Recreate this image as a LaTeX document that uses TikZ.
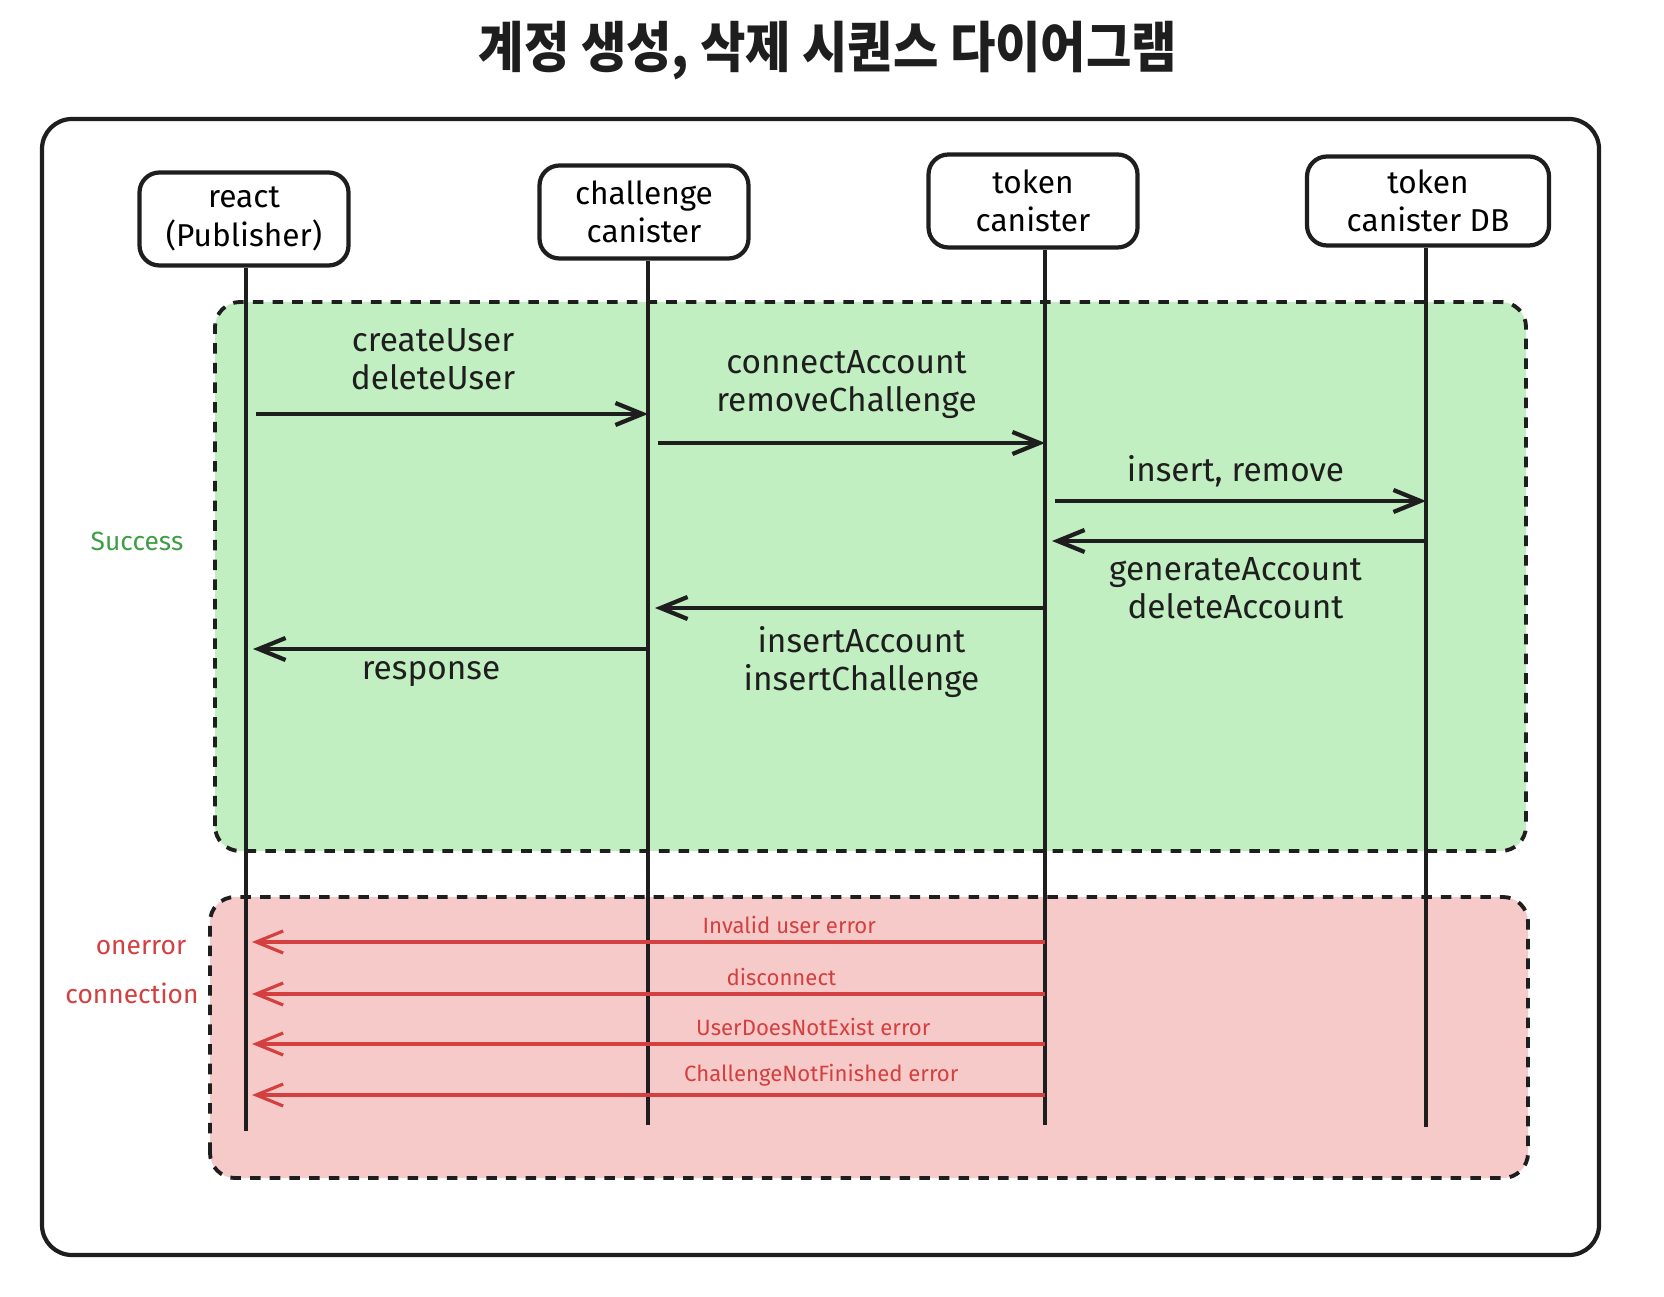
\documentclass[tikz,border=0pt]{standalone}
\usepackage{fontspec}
\setmainfont{Fira Sans}
\newfontfamily\krfont[FakeStretch=0.9]{Noto Sans CJK KR}
\usepackage{tikz}
\usetikzlibrary{arrows.meta, calc}
\definecolor{ink}{HTML}{1E1E1E}
\definecolor{okfill}{HTML}{C1EFC1}
\definecolor{errfill}{HTML}{F7CACA}
\definecolor{okink}{HTML}{3F9E45}
\definecolor{errink}{HTML}{D43F3F}

\begin{document}
\begin{tikzpicture} [>={Straight Barb[length=2.7mm,width=2.2mm]},
    line width = 1.1pt,
    actor/.style = {draw=ink, line width=1.2pt, rounded corners=2mm, align=center,
                    minimum width=2.09cm, minimum height=0.93cm, inner sep=1pt,
                    font=\fontsize{9}{11}\selectfont},
    el/.style = {inner sep=2pt, align=center, text=ink, font=\fontsize{9.5}{10.8}\selectfont},
    errl/.style = {inner sep=2pt, text=errink, font=\fontsize{6.3}{7.5}\selectfont},
    side/.style = {font=\fontsize{7.5}{8.5}\selectfont},
    ]
        \tikzset{life/.style = {draw=ink, line width=1.2pt}}
        \tikzset{msg/.style = {->, draw=ink, line width=1.2pt, shorten <=1mm}}
        \tikzset{back/.style = {->, draw=ink, line width=1.2pt, shorten >=0.7mm}}
        \tikzset{errmsg/.style = {->, draw=errink, line width=0.9pt, shorten >=0.6mm}}
        \tikzset{zone/.style = {draw=ink, line width=1.1pt, dash pattern=on 3pt off 2.6pt, rounded corners=2.5mm}}
    \useasboundingbox (0,0) rectangle (16.64,12.96);

    % title and frame
    \node[font=\krfont\bfseries\fontsize{15.6}{17}\selectfont, text=ink] (title) at (8.28,12.45) {계정 생성, 삭제 시퀀스 다이어그램};
    \draw[ink, line width=1.2pt, rounded corners=3mm] (0.42,0.41) rectangle (15.99,11.77);

    % success / error zones
    \path[zone, fill=okfill] (2.15,4.45) rectangle (15.26,9.94);
    \path[zone, fill=errfill] (2.10,1.18) rectangle (15.28,3.99);
    \node[side, text=okink] (ok) at (1.37,7.55) {Success};
    \node[side, text=errink] (onerr) at (1.41,3.48) {onerror};
    \node[side, text=errink] (conn) at (1.32,3.03) {connection};

    % actors
    \node[actor] (react) at (2.44,10.77) {react\\(Publisher)};
    \node[actor] (chal) at (6.44,10.84) {challenge\\canister};
    \node[actor] (token) at (10.33,10.95) {token\\canister};
    \node[actor, minimum width=2.42cm, minimum height=0.89cm] (db) at (14.28,10.95) {token\\canister DB};

    \coordinate (reactEnd) at (2.46,1.65);
    \coordinate (chalEnd) at (6.48,1.71);
    \coordinate (tokenEnd) at (10.45,1.71);
    \coordinate (dbEnd) at (14.26,1.69);

    \draw[life] (react.south -| reactEnd) -- (reactEnd);
    \draw[life] (chal.south -| chalEnd) -- (chalEnd);
    \draw[life] (token.south -| tokenEnd) -- (tokenEnd);
    \draw[life] (db.south -| dbEnd) -- (dbEnd);

\path
    (reactEnd |- 0,8.82) edge[msg] node[el,above=1.5mm,xshift=-1.4mm] {createUser\\deleteUser} (chalEnd |- 0,8.82)
    (chalEnd |- 0,8.53) edge[msg] node[el,above=1.5mm] {connectAccount\\removeChallenge} (tokenEnd |- 0,8.53)
    (tokenEnd |- 0,7.95) edge[msg] node[el,above=0.5mm] {insert, remove} (dbEnd |- 0,7.95)
    (dbEnd |- 0,7.55) edge[back] node[el,below=0.7mm] {generateAccount\\deleteAccount} (tokenEnd |- 0,7.55)
    (tokenEnd |- 0,6.88) edge[back] node[el,below=0.9mm,xshift=1.5mm] {insertAccount\\insertChallenge} (chalEnd |- 0,6.88)
    (chalEnd |- 0,6.47) edge[back] node[el,below=0.3mm,xshift=-1.6mm] {response} (reactEnd |- 0,6.47);

\path
    (tokenEnd |- 0,3.54) edge[errmsg] node[errl,above,pos=0.32] {Invalid user error} (reactEnd |- 0,3.54)
    (tokenEnd |- 0,3.02) edge[errmsg] node[errl,above,pos=0.33] {disconnect} (reactEnd |- 0,3.02)
    (tokenEnd |- 0,2.52) edge[errmsg] node[errl,above,pos=0.29] {UserDoesNotExist error} (reactEnd |- 0,2.52)
    (tokenEnd |- 0,2.01) edge[errmsg] node[errl,above,pos=0.28] {ChallengeNotFinished error} (reactEnd |- 0,2.01);

\end{tikzpicture}
\end{document}
